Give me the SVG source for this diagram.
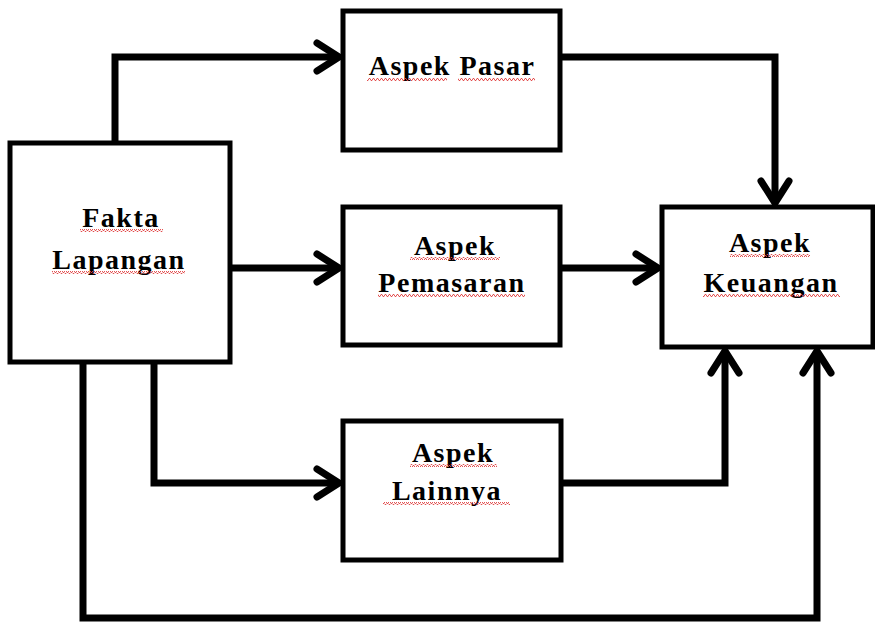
<svg xmlns="http://www.w3.org/2000/svg" width="875" height="623" viewBox="0 0 875 623">
<style>
.box{fill:#fff;stroke:#000;stroke-width:5}
.lbl{font-family:"Liberation Serif","Times New Roman",serif;font-weight:bold;font-size:28px;letter-spacing:1.5px;fill:#000;text-anchor:middle}
.conn{fill:none;stroke:#000;stroke-width:7;stroke-linejoin:miter}
.sq{fill:url(#wavy)}
</style>
<defs>
<marker id="arr" markerUnits="userSpaceOnUse" viewBox="0 0 30 36" markerWidth="30" markerHeight="36" refX="26" refY="18" orient="auto">
<path d="M4,4 L26,18 L4,32" fill="none" stroke="#000" stroke-width="7" stroke-linecap="round" stroke-linejoin="round"/>
</marker>
<pattern id="wavy" patternUnits="userSpaceOnUse" width="4" height="3">
<path d="M0,2.5 L1,0.5 L2,0.5 L3,2.5 L4,2.5" fill="none" stroke="#e04040" stroke-width="0.9"/>
</pattern>
</defs>
<rect width="875" height="623" fill="#fff"/>
<g id="connectors">
<path class="conn" d="M115,143 V57 H339" marker-end="url(#arr)"/>
<path class="conn" d="M560,57 H775 V203" marker-end="url(#arr)"/>
<path class="conn" d="M230,268 H339" marker-end="url(#arr)"/>
<path class="conn" d="M560,268 H658" marker-end="url(#arr)"/>
<path class="conn" d="M154,362 V483 H339" marker-end="url(#arr)"/>
<path class="conn" d="M561,483 H725 V351" marker-end="url(#arr)"/>
<path class="conn" d="M83,362 V618 H817 V351" marker-end="url(#arr)"/>
</g>
<g id="fakta">
<rect class="box" x="10" y="143" width="220" height="219"/>
<text class="lbl" x="121" y="227">Fakta</text>
<text class="lbl" x="119" y="269">Lapangan</text>
<rect class="sq" x="80" y="229" width="83" height="3"/>
<rect class="sq" x="52" y="271" width="133" height="3"/>
</g>
<g id="pasar">
<rect class="box" x="343" y="11" width="217" height="139"/>
<text class="lbl" x="452" y="75">Aspek Pasar</text>
<rect class="sq" x="367" y="78" width="80" height="3"/>
<rect class="sq" x="458" y="78" width="77" height="3"/>
</g>
<g id="pemasaran">
<rect class="box" x="343" y="207" width="217" height="138"/>
<text class="lbl" x="455" y="255">Aspek</text>
<text class="lbl" x="452" y="292">Pemasaran</text>
<rect class="sq" x="410" y="257" width="90" height="3"/>
<rect class="sq" x="378" y="294" width="147" height="3"/>
</g>
<g id="keuangan">
<rect class="box" x="662" y="207" width="211" height="140"/>
<text class="lbl" x="770" y="252">Aspek</text>
<text class="lbl" x="771" y="292">Keuangan</text>
<rect class="sq" x="730" y="254" width="80" height="3"/>
<rect class="sq" x="703" y="294" width="137" height="3"/>
</g>
<g id="lainnya">
<rect class="box" x="343" y="421" width="218" height="139"/>
<text class="lbl" x="453" y="462">Aspek</text>
<text class="lbl" x="447" y="500">Lainnya</text>
<rect class="sq" x="410" y="464" width="87" height="3"/>
<rect class="sq" x="383" y="502" width="127" height="3"/>
</g>
</svg>
